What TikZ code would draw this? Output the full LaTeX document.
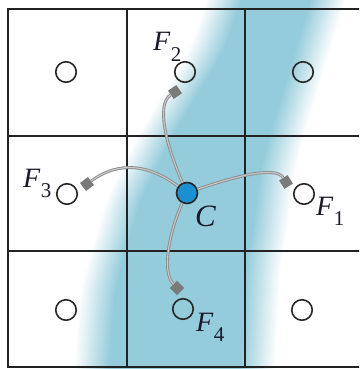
\documentclass[tikz,border=0pt]{standalone}
\usepackage{amsmath}
\usepackage{fontspec}
\usepackage{tikz}
\usetikzlibrary{positioning}
\newfontfamily\labfont{Liberation Serif}
\definecolor{bandblue}{HTML}{94CCDB}
\definecolor{centreblue}{HTML}{1C8FD3}
\definecolor{gridgray}{HTML}{222222}
\definecolor{linkgray}{HTML}{8A8A8A}
\definecolor{tipgray}{HTML}{7A7A7A}
\definecolor{labink}{HTML}{1A1A2A}
\newcommand{\Flab}[1]{\itshape F\upshape\kern0.5pt\raisebox{-10pt}{\fontsize{21}{24}\selectfont #1}}

\begin{document}
\begin{tikzpicture}[
    x=1pt, y=-1pt,
    cell/.style={draw=gridgray, line width=1.7pt},
    site/.style={circle, draw=black!85, line width=1.6pt, minimum size=20.5pt, inner sep=0pt},
    centre/.style={site, fill=centreblue, minimum size=21pt},
    tip/.style={rectangle, fill=tipgray, minimum size=10pt, inner sep=0pt},
    link/.style={draw=linkgray, line width=0.9pt, double=linkgray!45, double distance=1.1pt},
    flab/.style={inner sep=0pt, anchor=base west, text=labink, font=\labfont\fontsize{28}{32}\selectfont}
  ]
    \useasboundingbox (0,0) rectangle (359,369);
    \clip (0,0) rectangle (359,369);

    % soft diagonal band
    \foreach \k in {0,...,16}{
      \pgfmathsetmacro{\edgeoff}{-17+34*\k/16}
      \pgfmathtruncatemacro{\shade}{100*(\k+1)/17}
      \fill[bandblue!\shade!white]
        plot[smooth] coordinates {({226+\edgeoff},-6) ({206+\edgeoff},50) ({177+\edgeoff},100) ({157+\edgeoff},133) ({140+\edgeoff},167) ({124+\edgeoff},200) ({114+\edgeoff},233) ({104+\edgeoff},267) ({97+\edgeoff},300) ({91+\edgeoff},375)}
        -- plot[smooth] coordinates {({257-\edgeoff},375) ({260-\edgeoff},333) ({264-\edgeoff},267) ({270-\edgeoff},233) ({274-\edgeoff},200) ({279-\edgeoff},167) ({288-\edgeoff},133) ({298-\edgeoff},100) ({313-\edgeoff},50) ({330-\edgeoff},-6)}
        -- cycle;
    }

    % grid
    \draw[cell] (8,9) rectangle (366,367);
    \foreach \gx in {127,245} \draw[cell] (\gx,9) -- (\gx,367);
    \foreach \gy in {136,251} \draw[cell] (8,\gy) -- (366,\gy);

    \node[site] (s11) at (66,72) {};
    \node[site] (f2) at (185,72) {};
    \node[site] (s13) at (303,72) {};
    \node[site] (f3) at (67,194) {};
    \node[centre] (c) at (187,193) {};
    \node[site] (f1) at (304,194) {};
    \node[site] (s31) at (66,310) {};
    \node[site] (f4) at (183,309) {};
    \node[site] (s33) at (302,310) {};

    \node[tip, rotate=34] (t2) at (175,92) {};
    \node[tip, rotate=37] (t3) at (87,184) {};
    \node[tip, rotate=32] (t1) at (286,182) {};
    \node[tip, rotate=45] (t4) at (177,288) {};

    \draw[link] (c) .. controls (168,150) and (155,105) .. (t2);
    \draw[link] (c) .. controls (150,165) and (120,160) .. (t3);
    \draw[link] (c) .. controls (230,178) and (275,165) .. (t1);
    \draw[link] (c) .. controls (172,225) and (160,270) .. (t4);

    \node[flab] (lf2) at (153,51) {\Flab{2}};
    \node[flab] (lf3) at (23,187) {\Flab{3}};
    \node[flab] (lf1) at (316,215) {\Flab{1}};
    \node[flab] (lf4) at (196,331) {\Flab{4}};
    \node[flab, font=\labfont\itshape\fontsize{31}{36}\selectfont] (lc) at (195,226) {C};
\end{tikzpicture}
\end{document}
